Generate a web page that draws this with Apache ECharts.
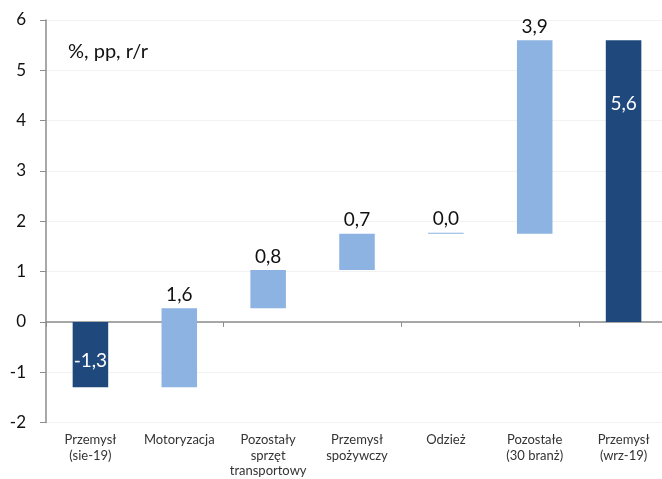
<!DOCTYPE html>
<html>
<head>
<meta charset="utf-8">
<script src="https://cdn.jsdelivr.net/npm/echarts@6/dist/echarts.min.js"></script>
<style>
  html, body { margin: 0; padding: 0; overflow: hidden; background: #fff; }
  #chart { width: 670px; height: 479px; }
</style>
</head>
<body>
<div id="chart"></div>
<script>
// Industrial output growth decomposition, % / pp y/y
const categories = [
  'Przemysł\n(sie-19)',
  'Motoryzacja',
  'Pozostały\nsprzęt\ntransportowy',
  'Przemysł\nspożywczy',
  'Odzież',
  'Pozostałe\n(30 branż)',
  'Przemysł\n(wrz-19)'
];
// first and last are totals, the rest are contributions (pp)
const startTotal = -1.3;
const contributions = [1.57, 0.76, 0.72, 0.0, 3.85];
const endTotal = 5.6;
const yTicks = { min: -2, max: 6, step: 1 };

const darkBlue = '#1F497D';
const lightBlue = '#8DB3E2';
const font = 'Lato, "Open Sans", sans-serif';

// invisible base + visible step for each column
const baseValues = [0];
const stepValues = [startTotal];
let level = startTotal;
contributions.forEach(function (c) {
  baseValues.push(level);
  stepValues.push(c);
  level += c;
});
baseValues.push(0);
stepValues.push(endTotal);

const fmt = v => v.toFixed(1).replace('.', ',');
const lastIdx = stepValues.length - 1;

const stepData = stepValues.map(function (v, i) {
  const isTotal = i === 0 || i === lastIdx;
  let label;
  if (i === 0) {
    label = { position: 'inside', offset: [0, 6], color: '#fff' };
  } else if (i === lastIdx) {
    label = { position: 'insideTop', distance: 54, color: '#fff' };
  } else {
    label = { position: 'top', distance: 4, color: '#111' };
  }
  return {
    value: v,
    itemStyle: { color: isTotal ? darkBlue : lightBlue },
    label: label
  };
});

const chart = echarts.init(document.getElementById('chart'), null, { renderer: 'canvas' });
chart.setOption({
  animation: false,
  backgroundColor: '#fff',
  grid: { left: 46, right: 2, top: 20, bottom: 56, containLabel: false },
  graphic: [{
    type: 'text',
    left: 68,
    top: 42,
    style: { text: '%, pp, r/r', fontFamily: font, fontSize: 20, fill: '#111' }
  }],
  xAxis: [{
    type: 'category',
    data: categories,
    position: 'bottom',
    axisLine: { show: true, onZero: true, lineStyle: { color: '#8c8c8c', width: 1.5 } },
    axisTick: { show: true, length: 5, lineStyle: { color: '#8c8c8c' } },
    axisLabel: { show: false },
    splitLine: { show: false }
  }, {
    type: 'category',
    data: categories,
    position: 'bottom',
    axisLine: { show: false, onZero: false },
    axisTick: { show: false },
    axisLabel: {
      interval: 0,
      margin: 10,
      fontFamily: font,
      fontSize: 13,
      lineHeight: 15.5,
      color: '#333'
    }
  }],
  yAxis: {
    type: 'value',
    min: yTicks.min,
    max: yTicks.max,
    interval: yTicks.step,
    axisLine: { show: true, lineStyle: { color: '#8c8c8c', width: 1.5 } },
    axisTick: { show: true, length: 6, lineStyle: { color: '#8c8c8c' } },
    axisLabel: { margin: 20, fontFamily: font, fontSize: 17, color: '#111' },
    splitLine: { show: true, lineStyle: { color: '#f2f2f2', width: 1 } }
  },
  series: [{
    type: 'bar',
    name: 'base',
    stack: 'w',
    stackStrategy: 'all',
    data: baseValues,
    barWidth: '40%',
    itemStyle: { color: 'transparent' },
    emphasis: { disabled: true },
    silent: true
  }, {
    type: 'bar',
    name: 'step',
    stack: 'w',
    stackStrategy: 'all',
    data: stepData,
    barWidth: '40%',
    barMinHeight: 1,
    label: {
      show: true,
      fontFamily: font,
      fontSize: 19,
      formatter: p => fmt(p.value)
    }
  }]
});
</script>
</body>
</html>
